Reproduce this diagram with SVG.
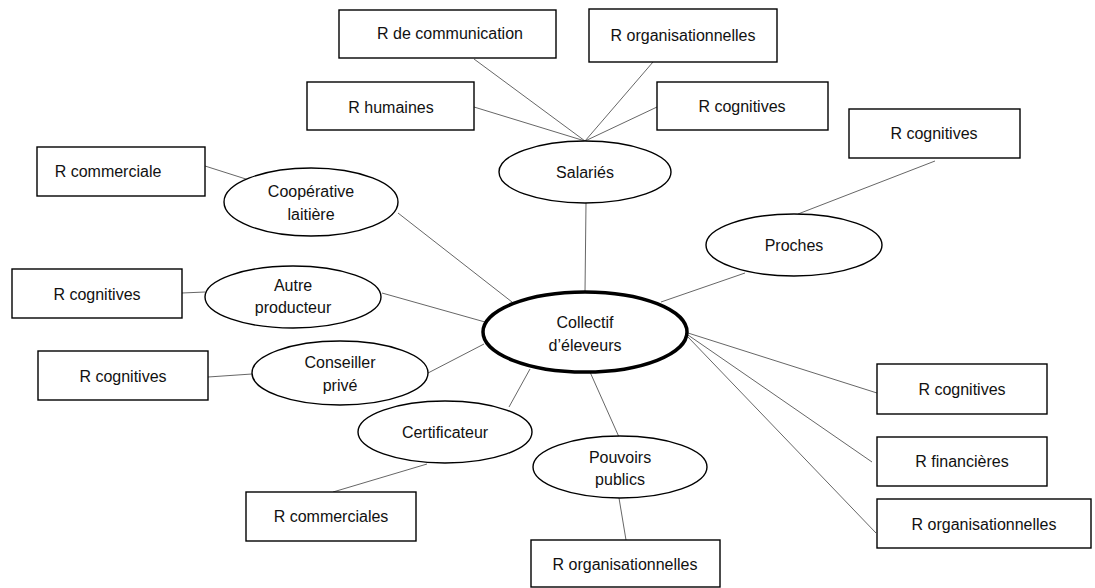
<svg xmlns="http://www.w3.org/2000/svg" width="1095" height="588" viewBox="0 0 1095 588">
<style>
.box{fill:#fff;stroke:#000;stroke-width:1.4}
.ell{fill:#fff;stroke:#000;stroke-width:1.4}
.main{fill:#fff;stroke:#000;stroke-width:3.5}
.ln{stroke:#555;stroke-width:0.9;fill:none}
text{font-family:"Liberation Sans",Arial,sans-serif;font-size:16px;fill:#111;text-anchor:middle;dominant-baseline:central}
</style>
<rect width="1095" height="588" fill="#fff"/>
<g id="connectors">
<line class="ln" x1="474" y1="59" x2="585" y2="141"/>
<line class="ln" x1="653" y1="62" x2="585" y2="141"/>
<line class="ln" x1="474" y1="107" x2="585" y2="141"/>
<line class="ln" x1="657" y1="107" x2="585" y2="141"/>
<line class="ln" x1="586" y1="203" x2="585" y2="292"/>
<line class="ln" x1="205" y1="166" x2="249" y2="180"/>
<line class="ln" x1="398" y1="213" x2="512" y2="302"/>
<line class="ln" x1="182" y1="293" x2="205" y2="292"/>
<line class="ln" x1="382" y1="293" x2="485" y2="322"/>
<line class="ln" x1="208" y1="377" x2="252" y2="374"/>
<line class="ln" x1="428" y1="373" x2="484" y2="344"/>
<line class="ln" x1="530" y1="369" x2="509" y2="407"/>
<line class="ln" x1="427" y1="464" x2="333" y2="492"/>
<line class="ln" x1="590" y1="372" x2="619" y2="437"/>
<line class="ln" x1="619" y1="498" x2="626" y2="540"/>
<line class="ln" x1="661" y1="302" x2="745" y2="273"/>
<line class="ln" x1="798" y1="214" x2="935" y2="161"/>
<line class="ln" x1="688" y1="333" x2="877" y2="393"/>
<line class="ln" x1="688" y1="335" x2="872" y2="462"/>
<line class="ln" x1="688" y1="337" x2="876" y2="533"/>
</g>
<g id="n-rcomm"><rect class="box" x="339" y="10" width="217" height="48"/><text x="450" y="33">R de communication</text></g>
<g id="n-rorg1"><rect class="box" x="589" y="9" width="188" height="53"/><text x="683" y="35">R organisationnelles</text></g>
<g id="n-rhum"><rect class="box" x="307" y="82" width="167" height="48"/><text x="391" y="107">R humaines</text></g>
<g id="n-rcog1"><rect class="box" x="657" y="82" width="171" height="48"/><text x="742" y="106">R cognitives</text></g>
<g id="n-salaries"><ellipse class="ell" cx="585" cy="172" rx="86" ry="31"/><text x="585" y="172">Salariés</text></g>
<g id="n-rcommerciale"><rect class="box" x="37" y="147" width="168" height="49"/><text x="108" y="171">R commerciale</text></g>
<g id="n-coop"><ellipse class="ell" cx="311" cy="202" rx="87" ry="34"/><text x="311" y="191">Coopérative</text><text x="311" y="214">laitière</text></g>
<g id="n-rcog2"><rect class="box" x="12" y="269" width="170" height="49"/><text x="97" y="294">R cognitives</text></g>
<g id="n-autre"><ellipse class="ell" cx="293" cy="297" rx="88" ry="31"/><text x="293" y="285">Autre</text><text x="293" y="307">producteur</text></g>
<g id="n-rcog3"><rect class="box" x="38" y="351" width="170" height="49"/><text x="123" y="376">R cognitives</text></g>
<g id="n-conseiller"><ellipse class="ell" cx="340" cy="373" rx="88" ry="32"/><text x="340" y="362">Conseiller</text><text x="340" y="385">privé</text></g>
<g id="n-collectif"><ellipse class="main" cx="585" cy="332" rx="102" ry="40"/><text x="585" y="322">Collectif</text><text x="585" y="345">d’éleveurs</text></g>
<g id="n-certif"><ellipse class="ell" cx="445" cy="432" rx="87" ry="31"/><text x="445" y="432">Certificateur</text></g>
<g id="n-rcommerciales"><rect class="box" x="246" y="492" width="170" height="49"/><text x="331" y="516">R commerciales</text></g>
<g id="n-pouvoirs"><ellipse class="ell" cx="620" cy="467" rx="87" ry="31"/><text x="620" y="457">Pouvoirs</text><text x="620" y="479">publics</text></g>
<g id="n-rorg2"><rect class="box" x="531" y="540" width="189" height="47"/><text x="625" y="564">R organisationnelles</text></g>
<g id="n-proches"><ellipse class="ell" cx="794" cy="245" rx="88" ry="31"/><text x="794" y="245">Proches</text></g>
<g id="n-rcog4"><rect class="box" x="849" y="109" width="171" height="49"/><text x="934" y="133">R cognitives</text></g>
<g id="n-rcog5"><rect class="box" x="877" y="364" width="170" height="50"/><text x="962" y="389">R cognitives</text></g>
<g id="n-rfin"><rect class="box" x="877" y="437" width="170" height="49"/><text x="962" y="461">R financières</text></g>
<g id="n-rorg3"><rect class="box" x="877" y="499" width="214" height="49"/><text x="984" y="524">R organisationnelles</text></g>
</svg>
